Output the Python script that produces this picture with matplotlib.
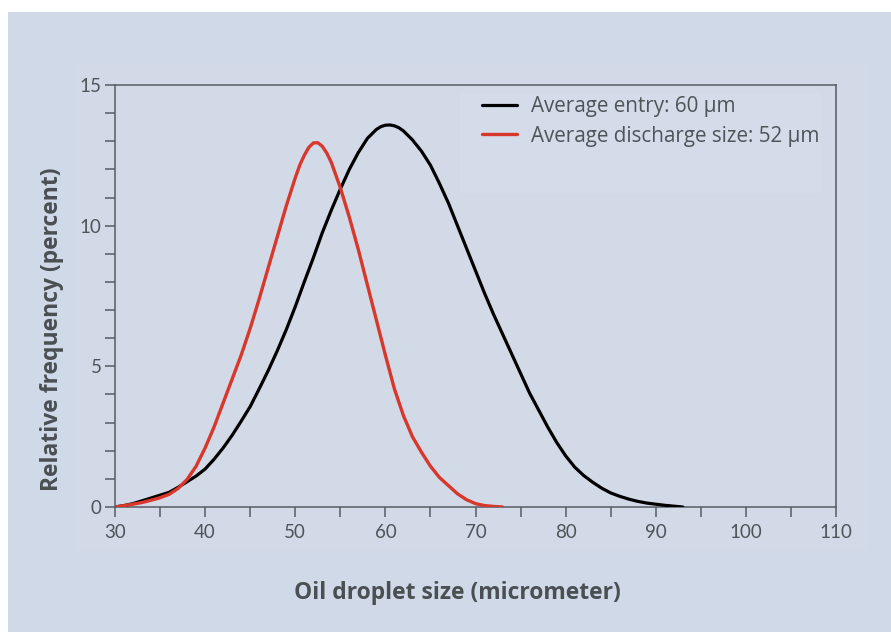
import matplotlib
matplotlib.use("Agg")
import matplotlib.pyplot as plt
from matplotlib.patches import Rectangle
from matplotlib.ticker import MultipleLocator

# ---- data ----
entry_x = [30, 31, 32, 33, 34, 35, 36, 37, 38, 39, 40, 41, 42, 43, 44, 45, 46, 47, 48, 49,
           50, 51, 52, 53, 54, 55, 56, 57, 58, 59, 59.5, 60, 60.5, 61, 61.5, 62, 63, 64, 65, 66, 67, 68, 69,
           70, 71, 72, 73, 74, 75, 76, 77, 78, 79, 80, 81, 82, 83, 84, 85, 86, 87, 88, 89,
           90, 91, 92, 93]
entry_y = [0.0, 0.05, 0.12, 0.22, 0.32, 0.42, 0.52, 0.7, 0.9, 1.1, 1.35, 1.7, 2.1, 2.55, 3.05, 3.57, 4.2, 4.85, 5.55, 6.3,
           7.12, 8.0, 8.85, 9.75, 10.55, 11.3, 12.0, 12.6, 13.1, 13.42, 13.52, 13.57, 13.58, 13.55, 13.48, 13.37, 13.05, 12.65, 12.15, 11.5, 10.8, 10.0, 9.2,
           8.4, 7.6, 6.85, 6.15, 5.45, 4.75, 4.05, 3.45, 2.85, 2.3, 1.82, 1.42, 1.12, 0.88, 0.67, 0.5, 0.38, 0.28, 0.2, 0.14,
           0.1, 0.06, 0.03, 0.0]

discharge_x = [30, 31, 32, 33, 34, 35, 36, 37, 38, 39, 40, 41, 42, 43, 44, 45, 46, 47, 48, 49,
               49.5, 50, 50.5, 51, 51.5, 52, 52.5, 53, 53.5, 54, 55, 56, 57, 58, 59, 60, 61, 62, 63, 64, 65, 66, 67, 68, 69,
               70, 71, 72, 73]
discharge_y = [0.0, 0.05, 0.1, 0.16, 0.24, 0.33, 0.45, 0.66, 0.98, 1.45, 2.1, 2.85, 3.7, 4.55, 5.4, 6.35, 7.4, 8.5, 9.6, 10.7,
               11.2, 11.7, 12.15, 12.5, 12.78, 12.94, 12.95, 12.82, 12.58, 12.25, 11.35, 10.3, 9.15, 7.9, 6.65, 5.4, 4.2, 3.25, 2.5, 1.95, 1.45, 1.05, 0.76, 0.47, 0.26,
               0.12, 0.05, 0.02, 0.0]

series_labels = ["Average entry: 60 µm", "Average discharge size: 52 µm"]
x_label = "Oil droplet size (micrometer)"
y_label = "Relative frequency (percent)"
x_ticks = [30, 40, 50, 60, 70, 80, 90, 100, 110]
y_ticks = [0, 5, 10, 15]

# ---- style ----
TICKFONT = ["Lato", "DejaVu Sans"]
TEXTFONT = ["Open Sans", "DejaVu Sans"]
plt.rcParams["font.family"] = TICKFONT
BG = "#d0d9e7"
INNER = "#d2dae8"
TXT = "#4f5459"
AX = "#565c61"

W, H = 891, 632
fig = plt.figure(figsize=(W / 100, H / 100), dpi=100)
fig.patch.set_facecolor("white")

def px_rect(x0, y0, x1, y1, color, z):
    fig.patches.append(Rectangle((x0 / W, 1 - y1 / H), (x1 - x0) / W, (y1 - y0) / H,
                                 transform=fig.transFigure, facecolor=color,
                                 edgecolor="none", zorder=z))

px_rect(8, 12, 891, 632, BG, -3)
px_rect(75, 63, 868, 550, INNER, -2)

ax = fig.add_axes([115 / W, 1 - 507 / H, (836 - 115) / W, (507 - 85) / H])
ax.set_facecolor(INNER)

ax.plot(entry_x, entry_y, color="black", lw=2.3, solid_capstyle="round",
        solid_joinstyle="round", label=series_labels[0], zorder=3)
ax.plot(discharge_x, discharge_y, color="#d8372b", lw=2.4, solid_capstyle="round",
        solid_joinstyle="round", label=series_labels[1], zorder=4)

ax.set_xlim(30, 110)
ax.set_ylim(0, 15)
ax.set_xticks(x_ticks)
ax.set_yticks(y_ticks)
ax.xaxis.set_minor_locator(MultipleLocator(5))
ax.yaxis.set_minor_locator(MultipleLocator(1))
for a in ("x", "y"):
    ax.tick_params(axis=a, which="both", direction="out", length=7.5, width=1.1,
                   color=AX, labelcolor=TXT, labelsize=13.5)
ax.tick_params(axis="x", which="major", pad=5)
ax.tick_params(axis="y", which="major", pad=2)
for s in ax.spines.values():
    s.set_color(AX)
    s.set_linewidth(1.1)

# light box behind legend
ax.add_patch(Rectangle((0.479, 0.745), 0.5, 0.235, transform=ax.transAxes,
                       facecolor="#d4dcea", edgecolor="none", zorder=1))

leg = ax.legend(loc="upper left", bbox_to_anchor=((482 - 115) / 721, (507 - 96) / 422),
                frameon=False, prop={"family": TEXTFONT, "size": 14.9},
                handlelength=1.7, handletextpad=0.68, borderpad=0,
                labelspacing=0.42, borderaxespad=0)
for t in leg.get_texts():
    t.set_color(TXT)

fig.text(457 / W, 1 - 593 / H, x_label, ha="center", va="center", family=TEXTFONT,
         fontsize=16.5, fontweight="bold", color="#4a4f54")
fig.text(52 / W, 1 - 329 / H, y_label, ha="center", va="center", rotation=90,
         family=TEXTFONT, fontsize=16.5, fontweight="bold", color="#4a4f54")

fig.savefig("out.png", dpi=100, facecolor=fig.get_facecolor())
